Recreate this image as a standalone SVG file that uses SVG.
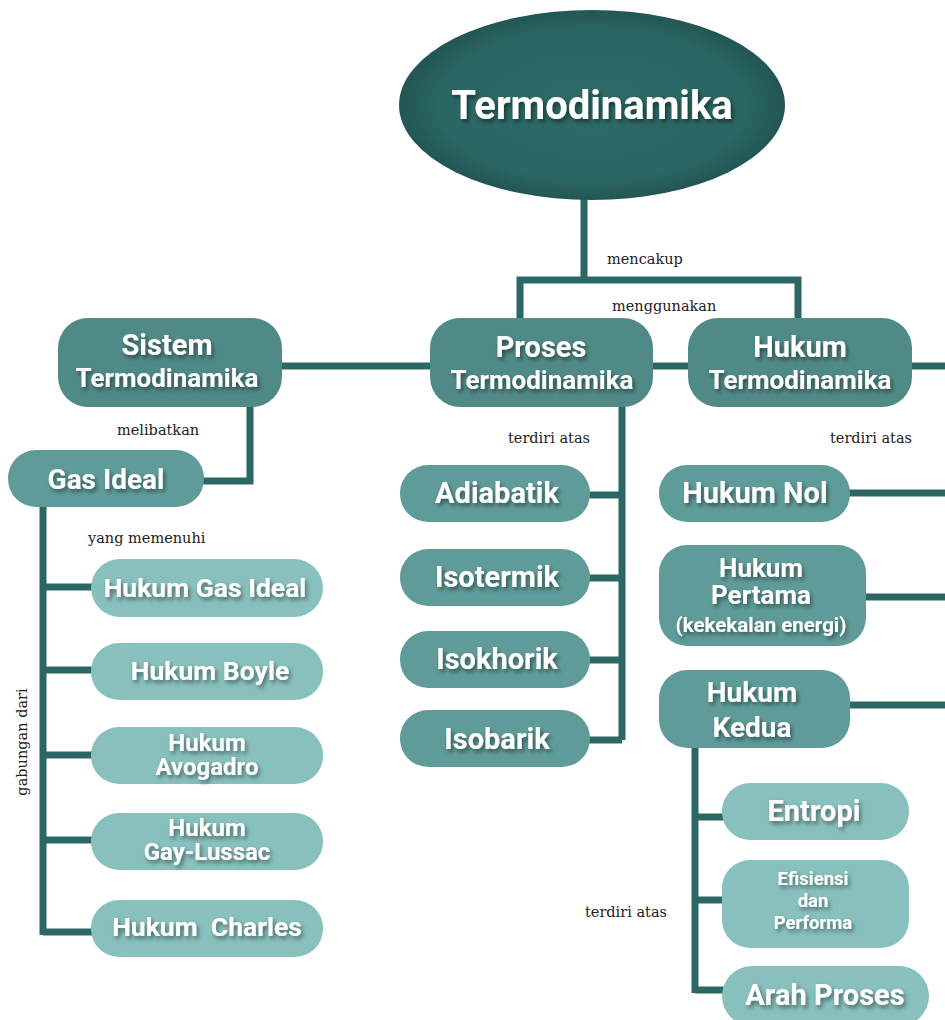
<svg xmlns="http://www.w3.org/2000/svg" width="945" height="1020" viewBox="0 0 945 1020">
<defs>
<radialGradient id="eg" cx="50%" cy="50%" r="50%">
<stop offset="0" stop-color="#2d6b68"/>
<stop offset="0.8" stop-color="#2a6663"/>
<stop offset="1" stop-color="#225654"/>
</radialGradient>
<filter id="ts" x="-20%" y="-40%" width="140%" height="180%">
<feDropShadow dx="2" dy="3" stdDeviation="2" flood-color="#000" flood-opacity="0.45"/>
</filter>
<style>
.c{fill:none;stroke:#2b6865;stroke-width:7}
.n1{fill:#508a87}
.n2{fill:#5f9c99}
.n3{fill:#88c0bd}
.t{font-family:Roboto,"Liberation Sans",sans-serif;font-weight:bold;fill:#fff;text-anchor:middle;filter:url(#ts)}
.l{font-family:"DejaVu Serif","Liberation Serif",serif;font-size:14.5px;fill:#222}
</style>
</defs>
<rect width="945" height="1020" fill="#fff"/>
<g id="connectors">
<path class="c" d="M584 198V280M520 318V280H798V318"/>
<path class="c" d="M280 366H432M651 366H690M910 366H945"/>
<path class="c" d="M250 405V481H202"/>
<path class="c" d="M43 505V935M43 587H93M43 670H93M43 755H93M43 840H93M43 932H93"/>
<path class="c" d="M622 405V740M588 495H622M588 578H622M588 660H622M588 740H622"/>
<path class="c" d="M848 493H945M864 597H945M848 705H945"/>
<path class="c" d="M695 746V993M695 817H724M695 900H724M695 990H724"/>
</g>
<g id="labels">
<text class="l" x="607" y="264">mencakup</text>
<text class="l" x="612" y="311">menggunakan</text>
<text class="l" x="117" y="435">melibatkan</text>
<text class="l" x="88" y="543">yang memenuhi</text>
<text class="l" x="508" y="443">terdiri atas</text>
<text class="l" x="830" y="443">terdiri atas</text>
<text class="l" x="585" y="917">terdiri atas</text>
<text class="l" x="0" y="0" text-anchor="middle" transform="translate(27 742) rotate(-90)">gabungan dari</text>
</g>
<g id="termodinamika">
<ellipse cx="592" cy="105" rx="193" ry="95" fill="url(#eg)"/>
<text class="t" x="592" y="119" font-size="40">Termodinamika</text>
</g>
<g id="sistem">
<rect class="n1" x="58" y="318" width="224" height="89" rx="30"/>
<text class="t" x="167" y="355" font-size="29">Sistem</text>
<text class="t" x="167" y="387" font-size="26">Termodinamika</text>
</g>
<g id="proses">
<rect class="n1" x="430" y="318" width="223" height="89" rx="30"/>
<text class="t" x="541" y="357" font-size="29">Proses</text>
<text class="t" x="542" y="389" font-size="26">Termodinamika</text>
</g>
<g id="hukum-termo">
<rect class="n1" x="688" y="318" width="224" height="89" rx="30"/>
<text class="t" x="800" y="357" font-size="29">Hukum</text>
<text class="t" x="800" y="389" font-size="26">Termodinamika</text>
</g>
<g id="gas-ideal">
<rect class="n2" x="8" y="450" width="196" height="57" rx="28"/>
<text class="t" x="106" y="489" font-size="28">Gas Ideal</text>
</g>
<g id="hukum-gas-ideal">
<rect class="n3" x="91" y="559" width="232" height="58" rx="29"/>
<text class="t" x="205" y="597" font-size="26.5">Hukum Gas Ideal</text>
</g>
<g id="boyle">
<rect class="n3" x="91" y="643" width="232" height="57" rx="28"/>
<text class="t" x="210" y="680" font-size="26.5">Hukum Boyle</text>
</g>
<g id="avogadro">
<rect class="n3" x="91" y="727" width="232" height="57" rx="28"/>
<text class="t" x="207" y="751" font-size="24">Hukum</text>
<text class="t" x="207" y="775" font-size="24">Avogadro</text>
</g>
<g id="gay-lussac">
<rect class="n3" x="91" y="813" width="232" height="57" rx="28"/>
<text class="t" x="207" y="836" font-size="24">Hukum</text>
<text class="t" x="207" y="860" font-size="24">Gay-Lussac</text>
</g>
<g id="charles">
<rect class="n3" x="91" y="900" width="232" height="57" rx="28"/>
<text class="t" x="207" y="936" font-size="26.5" xml:space="preserve">Hukum  Charles</text>
</g>
<g id="adiabatik">
<rect class="n2" x="400" y="465" width="190" height="57" rx="28"/>
<text class="t" x="497" y="503" font-size="29">Adiabatik</text>
</g>
<g id="isotermik">
<rect class="n2" x="400" y="549" width="190" height="57" rx="28"/>
<text class="t" x="497" y="587" font-size="29">Isotermik</text>
</g>
<g id="isokhorik">
<rect class="n2" x="400" y="631" width="190" height="57" rx="28"/>
<text class="t" x="497" y="669" font-size="29">Isokhorik</text>
</g>
<g id="isobarik">
<rect class="n2" x="400" y="710" width="190" height="57" rx="28"/>
<text class="t" x="497" y="749" font-size="29">Isobarik</text>
</g>
<g id="hukum-nol">
<rect class="n2" x="659" y="465" width="191" height="57" rx="28"/>
<text class="t" x="755" y="503" font-size="29">Hukum Nol</text>
</g>
<g id="hukum-pertama">
<rect class="n2" x="659" y="545" width="207" height="101" rx="28"/>
<text class="t" x="761" y="577" font-size="26">Hukum</text>
<text class="t" x="761" y="604" font-size="26">Pertama</text>
<text class="t" x="761" y="632" font-size="20.5">(kekekalan energi)</text>
</g>
<g id="hukum-kedua">
<rect class="n2" x="659" y="670" width="191" height="78" rx="28"/>
<text class="t" x="752" y="702" font-size="28">Hukum</text>
<text class="t" x="752" y="737" font-size="28">Kedua</text>
</g>
<g id="entropi">
<rect class="n3" x="722" y="783" width="187" height="57" rx="28"/>
<text class="t" x="814" y="821" font-size="29">Entropi</text>
</g>
<g id="efisiensi">
<rect class="n3" x="722" y="860" width="187" height="88" rx="28"/>
<text class="t" x="813" y="885" font-size="18.5">Efisiensi</text>
<text class="t" x="813" y="907" font-size="18.5">dan</text>
<text class="t" x="813" y="929" font-size="18.5">Performa</text>
</g>
<g id="arah-proses">
<rect class="n3" x="722" y="966" width="207" height="60" rx="30"/>
<text class="t" x="825" y="1005" font-size="29">Arah Proses</text>
</g>
</svg>
